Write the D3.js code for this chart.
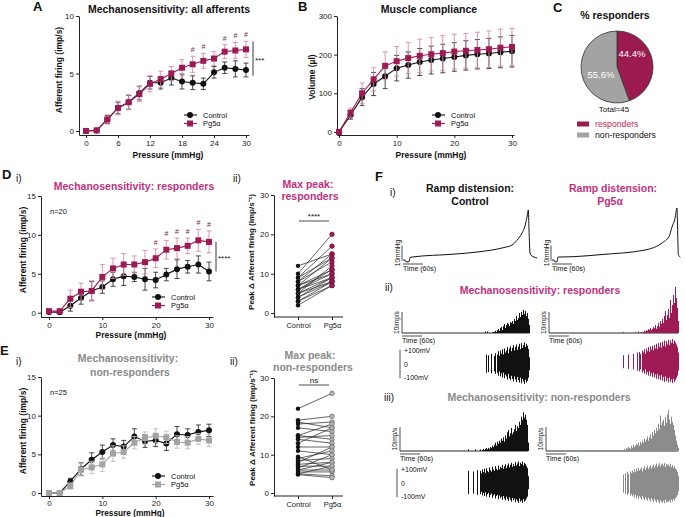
<!DOCTYPE html>
<html>
<head>
<meta charset="utf-8">
<script src="https://cdn.jsdelivr.net/npm/d3@7"></script>
<style>
  body { margin: 0; background: #fff; }
  svg { font-family: "Liberation Sans", Arial, Helvetica, sans-serif; }
</style>
</head>
<body>
<script>
// ---- data ----
var pressure = [0, 2, 4, 6, 8, 10, 12, 14, 16, 18, 20, 22, 24, 26, 28, 30];

// A: all afferents (imp/s, mean +- sem)
var allCtrl    = [0, 0.05, 1.0, 2.0, 2.5, 3.3, 4.2, 4.2, 4.6, 4.3, 4.2, 4.1, 5.1, 5.5, 5.4, 5.3];
var allCtrlErr = [0.05, 0.1, 0.35, 0.5, 0.6, 0.6, 0.55, 0.55, 0.6, 0.65, 0.6, 0.5, 0.5, 0.5, 0.7, 0.6];
var allPg      = [0, 0.05, 1.0, 2.0, 2.5, 3.2, 4.1, 4.5, 5.0, 5.5, 5.8, 6.1, 6.3, 6.9, 7.0, 7.1];
var allPgErr   = [0.05, 0.1, 0.4, 0.6, 0.65, 0.65, 0.7, 0.7, 0.6, 0.7, 0.7, 0.65, 0.6, 0.6, 0.7, 0.7];
var allHash    = [20, 22, 26, 28, 30];

// B: compliance (ul)
var volCtrl    = [0, 43, 90, 124, 144, 165, 173, 181, 186, 190, 194, 198, 201, 203, 206, 209];
var volCtrlErr = [2, 10, 22, 30, 32, 33, 34, 35, 36, 37, 37, 38, 38, 39, 40, 41];
var volPg      = [0, 50, 100, 136, 171, 183, 191, 197, 201, 204, 208, 210, 212, 214, 218, 220];
var volPgErr   = [2, 12, 27, 30, 36, 38, 40, 43, 43, 45, 45, 45, 46, 47, 48, 48];

// C: responders
var pieLabels = ["responders", "non-responders"];
var pieValues = [44.4, 55.6];
var pieTotal = 45;

// D i: responders
var respCtrl    = [0.1, 0.05, 0.9, 1.9, 2.8, 3.3, 4.3, 4.7, 4.6, 4.3, 4.2, 4.9, 5.6, 5.9, 6.2, 5.3];
var respCtrlErr = [0.1, 0.1, 0.7, 0.8, 1.2, 0.8, 0.9, 1.2, 0.6, 1.4, 1.0, 0.8, 1.2, 0.8, 1.1, 1.2];
var respPg      = [0.2, 0.2, 1.8, 2.7, 2.8, 4.6, 5.7, 6.2, 6.2, 6.5, 7.0, 8.1, 8.3, 8.6, 9.3, 9.1];
var respPgErr   = [0.1, 0.1, 1.1, 1.1, 1.3, 1.6, 1.3, 1.4, 1.1, 1.5, 1.2, 1.2, 1.3, 1.0, 1.4, 1.4];
var respHash    = [20, 22, 24, 26, 28, 30];

// E i: non-responders
var nonCtrl    = [0, 0, 1.5, 3.1, 4.3, 5.3, 6.2, 6.0, 7.3, 6.7, 6.8, 6.4, 7.6, 7.5, 7.9, 8.1];
var nonCtrlErr = [0.05, 0.05, 0.4, 0.8, 0.9, 0.9, 0.8, 0.8, 1.0, 0.8, 0.8, 0.9, 1.0, 0.8, 0.9, 0.8];
var nonPg      = [0, 0, 0.9, 3.0, 3.3, 3.7, 5.1, 5.3, 6.5, 7.1, 7.4, 7.2, 6.6, 6.5, 7.0, 6.8];
var nonPgErr   = [0.05, 0.05, 0.4, 0.8, 0.8, 0.9, 1.0, 0.8, 0.8, 0.8, 0.9, 0.8, 0.8, 0.8, 0.7, 0.8];

// D ii / E ii: max peak pairs (imp/s)
var groups = ["Control", "Pg5\u03b1"];
var peakRespCtrl = [12, 10, 9, 9, 8, 8, 7, 7, 7, 6, 6, 6, 5, 5, 5, 4, 4, 3, 3, 2];
var peakRespPg   = [15, 20, 17, 14, 15, 13, 11, 10, 14, 10, 9, 11, 9, 8, 12, 8, 9, 7, 8, 7];
var peakNonCtrl  = [22, 19, 18.5, 18, 17, 15, 15, 14.5, 14, 13, 12, 11, 9, 8.5, 8, 7.5, 7, 6.5, 6, 6, 5.5, 5, 5, 4.8, 9.5];
var peakNonPg    = [26, 20, 17, 18.5, 16, 14, 18, 15, 13, 17, 12, 10, 11, 9, 12, 8, 7, 10, 6, 8, 5.5, 7, 4.5, 4, 6];

// F i: ramp distension (time s, pressure mmHg)
var rampTimeCtrl = [0, 6, 9, 18, 21, 27, 150, 225, 300, 327, 342, 357, 366, 372, 376, 378, 381, 384, 402];
var rampCtrl     = [1.3, 1.3, 0, 0.2, 3.0, 3.3, 5.2, 6.7, 9.5, 11.3, 14.5, 19.3, 24, 30, 34.7, 22, 6, 4.5, 2.7];
var rampTimePg   = [0, 6, 9, 15, 18, 60, 150, 279, 330, 351, 360, 369, 375, 377, 379, 385];
var rampPg       = [1.3, 1.3, 0, 0.2, 3.3, 3.5, 5, 8, 12.7, 17, 23.3, 29, 36, 20, 5, 3];

// F ii / iii: firing histograms (imp/s, 3 s bins) and spike envelopes (mV)
var binSec = 3;
var histRespCtrl = [0.7,0,0.7,0,0,0,0,0.2,0.5,0.5,1,0.5,1.4,1.9,1,2.4,2.9,1.4,3.3,4.3,2.4,3.8,4.8,4.3,3.3,5.2,4.8,5.7,4.3,6.7,5.7,8.1,6.2,7.1,9.5,7.6,10,8.6,11,9,10.5,8.1,9.5,6.7,3.8];
var histRespPg   = [0.5,0,0,0,0,0,0,0,0,0,0,0,0.5,0,0,0.7,0,0.2,0.5,0.2,0.5,1,0.7,1.4,1,1.9,1.4,2.4,1.4,1.9,2.9,2.4,3.8,1.9,3.3,4.8,2.9,5.7,4.3,6.7,4.8,8.1,10.5,6.2,8.6,11.4,7.1,15.7,9.5,13.3,18.1,14.3,21.9,16.7,11.9,5.7];
var histNonCtrl  = [0.7,0,0,0,0,0,0,0.7,0,0,0,0,0.7,0,0.4,0.9,0.4,0.9,1.3,0.7,1.3,0.9,1.7,1.3,2.2,1.7,2.6,3.5,2.2,3.9,3,4.3,3.5,5.2,4.3,5.7,3.9,6.5,5.2,7.8,8.7,6.1,7.4,9.6,7,7.8,9.1,10.9,8.3,10.4,9.6,12.2,10.9,14.3,13,16.1,13.9,15.2,13,10.9,3.5];
var histNonPg    = [0.4,0.9,0.4,1.3,0.9,1.7,1.3,0.9,2.2,1.3,2.6,1.7,2.2,3,2.6,3.5,2.2,3.9,3,4.3,3.5,5.2,3.9,4.8,6.1,4.3,5.7,7,5.2,7.8,6.5,8.7,7.4,9.6,8.3,11.3,9.1,14.8,10.9,12.2,13,10.4,14.3,11.7,15.2,17,13,11.3,14.3,12.2,10.9,8.7,6.5,4.3,2.6,1.3];
var voltRespCtrl = [0,70,0,65,0,0,75,0,0,60,80,0,70,95,60,100,75,110,70,115,85,100,125,80,115,130,95,120,140,100,125,145,105,130,150,110,155,120,140,160,125,150,135,110,50];
var voltRespPg   = [50,0,0,0,0,55,0,0,0,0,60,0,0,0,70,0,75,60,0,85,70,95,60,100,80,110,75,115,90,120,85,125,100,135,95,140,110,145,105,150,120,160,115,155,130,165,125,160,140,170,135,160,145,130,110,70];
var voltNonCtrl  = [90,0,0,0,0,85,0,0,0,95,0,0,90,70,100,80,105,75,110,90,80,115,95,85,120,100,90,125,105,95,130,100,120,110,135,105,125,140,110,130,145,115,135,150,120,140,125,155,130,145,160,125,150,140,160,130,150,140,125,110,50];
var voltNonPg    = [70,0,80,0,90,75,0,95,80,100,85,110,90,115,95,120,100,110,125,95,115,130,105,120,135,110,125,140,115,130,145,120,135,150,125,140,155,130,145,150,135,155,125,150,140,145,130,150,125,140,120,130,115,105,90,60];

// ---- colours ----
var MAG = "#9e1a55", MAG_ERR = "#d98aab", MAG_TXT = "#c2307d", RED_TXT = "#cc2650";
var GREY = "#a3a3a3", GREY_ERR = "#bcbcbc", GREY_TXT = "#8a8a8a", INK = "#111";

var svg = d3.select("body").append("svg").attr("width", 685).attr("height", 517);

function label(x, y, s, size, o) {
  o = o || {};
  return svg.append("text").attr("x", x).attr("y", y).text(s)
    .attr("font-size", size)
    .attr("font-weight", o.bold ? "bold" : "normal")
    .attr("fill", o.fill || INK)
    .attr("text-anchor", o.anchor || "start")
    .attr("transform", o.rot ? "rotate(-90," + x + "," + y + ")" : null);
}

function styleAxis(g) {
  g.select(".domain").attr("stroke", "#222");
  g.selectAll(".tick line").attr("stroke", "#222");
  g.selectAll(".tick text").attr("font-size", 8).attr("fill", "#222")
    .attr("font-family", "'Liberation Sans', Arial, sans-serif");
}

function lineChart(o) {
  var x = d3.scaleLinear().domain(o.xDom).range(o.xRange);
  var y = d3.scaleLinear().domain(o.yDom).range(o.yRange);
  var g = svg.append("g");
  g.append("g").attr("transform", "translate(0," + o.yRange[0] + ")")
    .call(d3.axisBottom(x).tickValues(o.xTicks).tickSize(3).tickPadding(o.tickPad || 2).tickSizeOuter(0))
    .call(styleAxis);
  g.append("g").attr("transform", "translate(" + o.xRange[0] + ",0)")
    .call(d3.axisLeft(y).tickValues(o.yTicks).tickSize(3).tickPadding(2).tickSizeOuter(0))
    .call(styleAxis);

  o.series.forEach(function (s) {
    var eb = g.append("g").attr("stroke", s.err).attr("stroke-width", 0.9);
    s.vals.forEach(function (v, i) {
      var px = x(pressure[i]);
      eb.append("line").attr("x1", px).attr("x2", px).attr("y1", y(v - s.sem[i])).attr("y2", y(v + s.sem[i]));
      eb.append("line").attr("x1", px - 2.5).attr("x2", px + 2.5).attr("y1", y(v + s.sem[i])).attr("y2", y(v + s.sem[i]));
      eb.append("line").attr("x1", px - 2.5).attr("x2", px + 2.5).attr("y1", y(v - s.sem[i])).attr("y2", y(v - s.sem[i]));
    });
    g.append("path").datum(s.vals)
      .attr("fill", "none").attr("stroke", s.color).attr("stroke-width", 1.1)
      .attr("d", d3.line().x(function (d, i) { return x(pressure[i]); }).y(function (d) { return y(d); }));
    drawMarks(g, s.shape, s.color, s.vals.map(function (d, i) { return [x(pressure[i]), y(d)]; }));
  });

  // legend
  o.series.forEach(function (s, k) {
    var ly = o.legY + k * 8.5;
    g.append("line").attr("x1", o.legX - 6).attr("x2", o.legX + 7).attr("y1", ly).attr("y2", ly)
      .attr("stroke", s.color).attr("stroke-width", 1.1);
    drawMarks(g, s.shape, s.color, [[o.legX, ly]]);
    g.append("text").attr("x", o.legX + 13).attr("y", ly + 2.6).text(s.name)
      .attr("font-size", 7.5).attr("fill", INK);
  });
  return { x: x, y: y };
}

function drawMarks(g, shape, color, pts) {
  pts.forEach(function (p) {
    if (shape === "circle") {
      g.append("circle").attr("cx", p[0]).attr("cy", p[1]).attr("r", 3).attr("fill", color);
    } else {
      g.append("rect").attr("x", p[0] - 3).attr("y", p[1] - 3).attr("width", 6).attr("height", 6).attr("fill", color);
    }
  });
}

function hashes(ch, xs, vals, sem, color) {
  xs.forEach(function (p) {
    var i = pressure.indexOf(p);
    svg.append("text").attr("x", ch.x(p)).attr("y", ch.y(vals[i] + sem[i]) - 4).text("#")
      .attr("font-size", 7).attr("text-anchor", "middle").attr("fill", color);
  });
}

function sigBracket(ch, top, bottom, stars) {
  var bx = ch.x(30) + 7;
  svg.append("line").attr("x1", bx).attr("x2", bx).attr("y1", ch.y(top)).attr("y2", ch.y(bottom))
    .attr("stroke", "#222").attr("stroke-width", 0.9);
  label(bx + 2, (ch.y(top) + ch.y(bottom)) / 2 + 4, stars, 8);
}

// ---- A ----
label(33, 11, "A", 13, { bold: true });
label(169, 13, "Mechanosensitivity: all afferents", 10.5, { bold: true, anchor: "middle" });
var chA = lineChart({
  xDom: [-1.31, 30.56], xRange: [79, 249], yDom: [-0.35, 10], yRange: [135, 16],
  xTicks: [0, 6, 12, 18, 24, 30], yTicks: [0, 5, 10], legX: 190, legY: 115,
  series: [
    { name: "Control", vals: allCtrl, sem: allCtrlErr, color: INK, err: "#333", shape: "circle" },
    { name: "Pg5\u03b1", vals: allPg, sem: allPgErr, color: MAG, err: MAG_ERR, shape: "square" }
  ]
});
hashes(chA, allHash, allPg, allPgErr, "#6b2b47");
sigBracket(chA, 7.8, 4.8, "***");
label(168, 158, "Pressure (mmHg)", 8.5, { bold: true, anchor: "middle" });
label(62, 70, "Afferent firing (imp/s)", 8.5, { bold: true, anchor: "middle", rot: true });

// ---- B ----
label(298, 11, "B", 13, { bold: true });
label(429, 13, "Muscle compliance", 10.5, { bold: true, anchor: "middle" });
lineChart({
  xDom: [-0.35, 30.35], xRange: [337, 514], yDom: [-8, 300], yRange: [135, 16],
  xTicks: [0, 10, 20, 30], yTicks: [0, 100, 200, 300], legX: 438, legY: 115,
  series: [
    { name: "Control", vals: volCtrl, sem: volCtrlErr, color: INK, err: "#333", shape: "circle" },
    { name: "Pg5\u03b1", vals: volPg, sem: volPgErr, color: MAG, err: MAG_ERR, shape: "square" }
  ]
});
label(431, 158, "Pressure (mmHg)", 8.5, { bold: true, anchor: "middle" });
label(315, 77, "Volume (\u00b5l)", 8.5, { bold: true, anchor: "middle", rot: true });

// ---- C ----
label(553, 12, "C", 13, { bold: true });
label(615, 19, "% responders", 10.5, { bold: true, anchor: "middle" });
var pieCol = d3.scaleOrdinal().domain(pieLabels).range(["#9b1b4e", GREY]);
var arcs = d3.pie().sort(null)(pieValues);
var arc = d3.arc().innerRadius(0).outerRadius(36);
var pg = svg.append("g").attr("transform", "translate(617,67)");
pg.selectAll("path").data(arcs).enter().append("path")
  .attr("d", arc).attr("fill", function (d, i) { return pieCol(pieLabels[i]); })
  .attr("stroke", "#333").attr("stroke-width", 0.8);
label(632, 57, pieValues[0].toFixed(1) + "%", 9.5, { fill: "#fff", anchor: "middle" });
label(601, 78, pieValues[1].toFixed(1) + "%", 9.5, { fill: "#fff", anchor: "middle" });
label(614, 112, "Total=" + pieTotal, 8, { anchor: "middle" });
pieLabels.forEach(function (n, i) {
  svg.append("rect").attr("x", 577).attr("y", 121.5 + i * 11).attr("width", 12).attr("height", 5)
    .attr("fill", pieCol(n));
  label(595, 127 + i * 11, n, 8.7, { fill: i === 0 ? RED_TXT : INK });
});

// ---- D i ----
label(2, 179, "D", 13, { bold: true });
label(16, 182, "i)", 10);
label(134, 190, "Mechanosensitivity: responders", 10.5, { bold: true, anchor: "middle", fill: MAG_TXT });
var chD = lineChart({
  xDom: [-1.5, 30.75], xRange: [41, 213], yDom: [-0.55, 15], yRange: [317, 196],
  xTicks: [0, 10, 20, 30], yTicks: [0, 5, 10, 15], legX: 158, legY: 297,
  series: [
    { name: "Control", vals: respCtrl, sem: respCtrlErr, color: INK, err: "#333", shape: "circle" },
    { name: "Pg5\u03b1", vals: respPg, sem: respPgErr, color: MAG, err: MAG_ERR, shape: "square" }
  ]
});
hashes(chD, respHash, respPg, respPgErr, "#6b2b47");
sigBracket(chD, 9.1, 5.3, "****");
label(50, 214, "n=20", 7.5);
label(131, 337.5, "Pressure (mmHg)", 8.5, { bold: true, anchor: "middle" });
label(26, 250, "Afferent firing (imp/s)", 8.5, { bold: true, anchor: "middle", rot: true });

// ---- E i ----
label(0, 355, "E", 13, { bold: true });
label(16, 365, "i)", 10);
label(128, 362, "Mechanosensitivity:", 10.5, { bold: true, anchor: "middle", fill: GREY_TXT });
label(130, 376, "non-responders", 10.5, { bold: true, anchor: "middle", fill: GREY_TXT });
lineChart({
  xDom: [-1.5, 30.75], xRange: [41, 213], yDom: [-0.39, 15], yRange: [496, 377], tickPad: 1,
  xTicks: [0, 10, 20, 30], yTicks: [0, 5, 10, 15], legX: 158, legY: 476,
  series: [
    { name: "Control", vals: nonCtrl, sem: nonCtrlErr, color: INK, err: "#333", shape: "circle" },
    { name: "Pg5\u03b1", vals: nonPg, sem: nonPgErr, color: GREY, err: GREY_ERR, shape: "square" }
  ]
});
label(50, 395, "n=25", 7.5);
label(130, 516, "Pressure (mmHg)", 8.3, { bold: true, anchor: "middle" });
label(26, 431, "Afferent firing (imp/s)", 8.5, { bold: true, anchor: "middle", rot: true });

// ---- paired plots ----
function pairedChart(o) {
  var x = d3.scalePoint().domain(groups).range([298, 332]);
  var y = d3.scaleLinear().domain(o.yDom).range(o.yRange);
  var g = svg.append("g");
  var ax = g.append("g").attr("transform", "translate(0," + o.yRange[0] + ")")
    .call(d3.axisBottom(x).tickSize(3).tickPadding(3).tickSizeOuter(0)).call(styleAxis);
  ax.select(".domain").remove();
  ax.selectAll(".tick text").attr("font-size", 7.5);
  g.append("line").attr("x1", 274).attr("x2", 343).attr("y1", o.yRange[0]).attr("y2", o.yRange[0])
    .attr("stroke", "#222");
  g.append("g").attr("transform", "translate(274,0)")
    .call(d3.axisLeft(y).tickValues([0, 10, 20, 30]).tickSize(3).tickPadding(2).tickSizeOuter(0))
    .call(styleAxis);
  o.ctrl.forEach(function (c, i) {
    g.append("line").attr("x1", x(groups[0])).attr("x2", x(groups[1]))
      .attr("y1", y(c)).attr("y2", y(o.pg[i])).attr("stroke", "#222").attr("stroke-width", 0.7);
  });
  o.ctrl.forEach(function (c) {
    g.append("circle").attr("cx", x(groups[0])).attr("cy", y(c)).attr("r", 2.2).attr("fill", INK);
  });
  o.pg.forEach(function (p) {
    g.append("circle").attr("cx", x(groups[1])).attr("cy", y(p)).attr("r", 2.3)
      .attr("fill", o.fill).attr("stroke", o.stroke).attr("stroke-width", 0.6);
  });
  g.append("line").attr("x1", 299).attr("x2", 329).attr("y1", o.barY).attr("y2", o.barY)
    .attr("stroke", "#222").attr("stroke-width", 0.8);
  label(314, o.barY - 2.5, o.sig, 8, { anchor: "middle" });
}

label(233, 182, "ii)", 10);
label(308, 188, "Max peak:", 10.5, { bold: true, anchor: "middle", fill: MAG_TXT });
label(310, 200, "responders", 10.5, { bold: true, anchor: "middle", fill: MAG_TXT });
pairedChart({ yDom: [-1, 30], yRange: [317, 195], ctrl: peakRespCtrl, pg: peakRespPg,
  fill: MAG, stroke: "#5a0d2e", barY: 221, sig: "****" });
label(254, 252, "Peak \u0394 Afferent firing (imp/s\u207b\u00b9)", 8, { bold: true, anchor: "middle", rot: true });

label(230, 365, "ii)", 10);
label(310, 359, "Max peak:", 10.5, { bold: true, anchor: "middle", fill: GREY_TXT });
label(313, 371, "non-responders", 10.5, { bold: true, anchor: "middle", fill: GREY_TXT });
pairedChart({ yDom: [-0.78, 30], yRange: [496, 378], ctrl: peakNonCtrl, pg: peakNonPg,
  fill: "#b5b5b5", stroke: "#555", barY: 385, sig: "ns" });
label(255, 428, "Peak \u0394 Afferent firing (imp/s\u207b\u00b9)", 8, { bold: true, anchor: "middle", rot: true });

// ---- F ----
label(375, 181, "F", 13, { bold: true });
label(390, 196, "i)", 10);
label(470, 192, "Ramp distension:", 10.5, { bold: true, anchor: "middle" });
label(470, 205, "Control", 10.5, { bold: true, anchor: "middle" });
label(613, 192, "Ramp distension:", 10.5, { bold: true, anchor: "middle", fill: MAG_TXT });
label(610, 205, "Pg5\u03b1", 10.5, { bold: true, anchor: "middle", fill: MAG_TXT });

function timeBar(xs, yb) {
  svg.append("line").attr("x1", xs(0)).attr("x2", xs(60)).attr("y1", yb).attr("y2", yb)
    .attr("stroke", "#222").attr("stroke-width", 0.8);
  label(xs(0), yb + 6.5, "Time (60s)", 7);
}

function drawRamp(x0, base, times, vals) {
  var xs = d3.scaleLinear().domain([0, 60]).range([x0, x0 + 20]);
  var ys = d3.scaleLinear().domain([0, 10]).range([base, base - 15]);
  svg.append("path").datum(vals).attr("fill", "none").attr("stroke", INK).attr("stroke-width", 1)
    .attr("d", d3.line().curve(d3.curveMonotoneX)
      .x(function (d, i) { return xs(times[i]); }).y(function (d) { return ys(d); }));
  svg.append("line").attr("x1", x0 - 1).attr("x2", x0 - 1).attr("y1", ys(1)).attr("y2", ys(11))
    .attr("stroke", "#222").attr("stroke-width", 0.8);
  label(x0 - 3, ys(6), "10mmHg", 6.5, { anchor: "middle", rot: true });
  timeBar(xs, base + 2);
}
drawRamp(403, 262, rampTimeCtrl, rampCtrl);
drawRamp(552, 262, rampTimePg, rampPg);

function drawHist(o) {
  var xs = d3.scaleLinear().domain([0, 60]).range([o.x0, o.x0 + 20]);
  var ys = d3.scaleLinear().domain([0, 10]).range([o.base, o.base - o.px10]);
  svg.append("line").attr("x1", o.x0).attr("x2", xs(o.tEnd)).attr("y1", o.base).attr("y2", o.base)
    .attr("stroke", INK).attr("stroke-width", 0.9);
  svg.append("g").selectAll("rect").data(o.vals).enter().append("rect")
    .attr("x", function (d, i) { return xs(o.start + i * binSec); })
    .attr("width", xs(binSec) - xs(0))
    .attr("y", function (d) { return ys(d); })
    .attr("height", function (d) { return o.base - ys(d); })
    .attr("fill", o.color);
  svg.append("line").attr("x1", o.x0).attr("x2", o.x0).attr("y1", ys(0)).attr("y2", ys(10))
    .attr("stroke", "#222").attr("stroke-width", 0.8);
  label(o.x0 - 3, ys(5), "10imp/s", 6.5, { anchor: "middle", rot: true });
  timeBar(xs, o.base + 3);
}

function drawVolt(o) {
  var xs = d3.scaleLinear().domain([0, 60]).range([o.x0, o.x0 + 20]);
  var vs = d3.scaleLinear().domain([-100, 100]).range([o.cy + 13.5, o.cy - 13.5]);
  var spikes = o.vals.map(function (d, i) { return { t: o.start + i * binSec, v: d }; })
    .filter(function (d) { return d.v > 0; });
  svg.append("g").selectAll("line").data(spikes).enter().append("line")
    .attr("x1", function (d) { return xs(d.t) + 0.5; })
    .attr("x2", function (d) { return xs(d.t) + 0.5; })
    .attr("y1", function (d) { return vs(d.v); })
    .attr("y2", function (d) { return vs(-d.v * 0.92); })
    .attr("stroke", o.color).attr("stroke-width", 1);
  if (o.scaleX) {
    svg.append("line").attr("x1", o.scaleX).attr("x2", o.scaleX).attr("y1", vs(105)).attr("y2", vs(-105))
      .attr("stroke", "#222").attr("stroke-width", 0.8);
    label(o.scaleX + 4, vs(100) + 2.5, "+100mV", 7);
    label(o.scaleX + 4, vs(0) + 2.5, "0", 7);
    label(o.scaleX + 4, vs(-100) + 2.5, "-100mV", 7);
  }
}

// ii responders
label(385, 291, "ii)", 10);
label(540, 294, "Mechanosensitivity: responders", 10.5, { bold: true, anchor: "middle", fill: MAG_TXT });
drawHist({ x0: 402, base: 333, tEnd: 384, start: 249, vals: histRespCtrl, color: INK, px10: 21 });
drawHist({ x0: 549, base: 333, tEnd: 387, start: 222, vals: histRespPg, color: MAG, px10: 21 });
drawVolt({ x0: 402, cy: 364, start: 249, vals: voltRespCtrl, color: "#111", scaleX: 400 });
drawVolt({ x0: 549, cy: 362, start: 222, vals: voltRespPg, color: MAG });

// iii non-responders
label(384, 401, "iii)", 10);
label(539, 401, "Mechanosensitivity: non-responders", 10.5, { bold: true, anchor: "middle", fill: GREY_TXT });
drawHist({ x0: 400, base: 451, tEnd: 384, start: 204, vals: histNonCtrl, color: INK, px10: 24 });
drawHist({ x0: 546, base: 451, tEnd: 396, start: 231, vals: histNonPg, color: "#8c8c8c", px10: 24 });
drawVolt({ x0: 400, cy: 483, start: 204, vals: voltNonCtrl, color: "#111", scaleX: 397 });
drawVolt({ x0: 546, cy: 484, start: 231, vals: voltNonPg, color: "#8c8c8c" });
</script>
</body>
</html>
